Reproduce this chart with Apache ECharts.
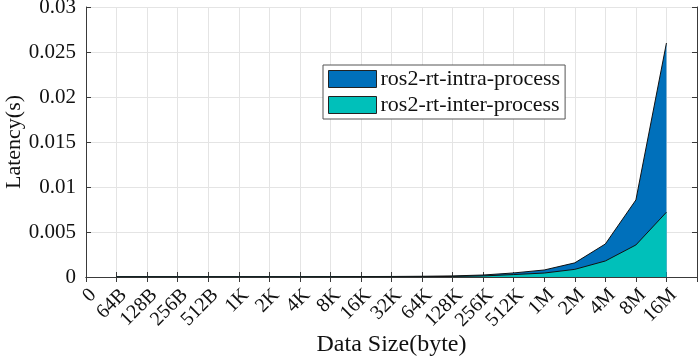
<!DOCTYPE html>
<html>
<head>
<meta charset="utf-8">
<script src="https://cdn.jsdelivr.net/npm/echarts@6/dist/echarts.min.js"></script>
<style>html,body{margin:0;padding:0;background:#fff}#c{width:700px;height:357px}</style>
</head>
<body>
<div id="c"></div>
<script>
var categories = ['0','64B','128B','256B','512B','1K','2K','4K','8K','16K','32K','64K','128K','256K','512K','1M','2M','4M','8M','16M',''];
var intraProcess = [null,0.00004,0.00004,0.00004,0.00004,0.00004,0.00004,0.00004,0.00005,0.00005,0.00006,0.00008,0.00012,0.00022,0.00045,0.00078,0.00157,0.00367,0.00856,0.0260];
var interProcess = [null,0.00002,0.00002,0.00002,0.00002,0.00002,0.00002,0.00002,0.00002,0.00003,0.00003,0.00004,0.00006,0.00012,0.00027,0.00044,0.00085,0.00178,0.00356,0.0072];
var yTicks = {min:0, max:0.03, interval:0.005};

var FONT = 'Liberation Serif';
var axisCol = '#3a3a3a';
var chart = echarts.init(document.getElementById('c'));
chart.setOption({
  animation:false,
  backgroundColor:'#fff',
  textStyle:{fontFamily:FONT},
  grid:{left:86, right:3, top:7, bottom:80, containLabel:false, outerBoundsMode:'none'},
  legend:{
    orient:'vertical', left:323, top:65,
    itemWidth:48, itemHeight:17, itemGap:4,
    padding:[3,5,3,5],
    borderColor:'#555', borderWidth:1, backgroundColor:'#fff',
    icon:'rect',
    textStyle:{fontFamily:FONT, fontSize:22, lineHeight:19, color:'#111', padding:[0,0,0,-1]},
    itemStyle:{borderColor:'#222', borderWidth:1},
    data:['ros2-rt-intra-process','ros2-rt-inter-process']
  },
  xAxis:[{
    type:'category', data:categories, boundaryGap:false,
    name:'Data Size(byte)', nameLocation:'middle', nameGap:56, nameMoveOverlap:false,
    nameTextStyle:{fontFamily:FONT, fontSize:24, color:'#111'},
    axisLine:{lineStyle:{color:axisCol, width:1}},
    axisTick:{inside:true, length:5, interval:0, lineStyle:{color:axisCol}},
    axisLabel:{interval:0, rotate:45, fontFamily:FONT, fontSize:20, color:'#111', margin:8, verticalAlign:'top'},
    splitLine:{show:true, interval:0, lineStyle:{color:'#e4e4e4', width:1}}
  },{
    type:'category', data:categories, boundaryGap:false, position:'top',
    axisLine:{lineStyle:{color:axisCol, width:1}},
    axisTick:{inside:true, length:5, interval:0, lineStyle:{color:axisCol}},
    axisLabel:{show:false}, splitLine:{show:false}
  }],
  yAxis:[{
    type:'value', min:yTicks.min, max:yTicks.max, interval:yTicks.interval,
    name:'Latency(s)', nameLocation:'middle', nameGap:61, nameMoveOverlap:false,
    nameTextStyle:{fontFamily:FONT, fontSize:22, color:'#111'},
    axisLine:{show:true, lineStyle:{color:axisCol, width:1}},
    axisTick:{show:true, inside:true, length:5, lineStyle:{color:axisCol}},
    axisLabel:{fontFamily:FONT, fontSize:21, color:'#111', margin:10},
    splitLine:{show:true, lineStyle:{color:'#e4e4e4', width:1}}
  },{
    type:'value', min:yTicks.min, max:yTicks.max, interval:yTicks.interval, position:'right',
    axisLine:{show:true, lineStyle:{color:axisCol, width:1}},
    axisTick:{show:true, inside:true, length:5, lineStyle:{color:axisCol}},
    axisLabel:{show:false}, splitLine:{show:false}
  }],
  series:[{
    name:'ros2-rt-intra-process', type:'line', data:intraProcess,
    symbol:'none', lineStyle:{color:'#111', width:1},
    itemStyle:{color:'#0070BB'},
    areaStyle:{color:'#0070BB', opacity:1}, z:2
  },{
    name:'ros2-rt-inter-process', type:'line', data:interProcess,
    symbol:'none', lineStyle:{color:'#111', width:1},
    itemStyle:{color:'#00C0BA'},
    areaStyle:{color:'#00C0BA', opacity:1}, z:3
  }]
});
</script>
</body>
</html>
